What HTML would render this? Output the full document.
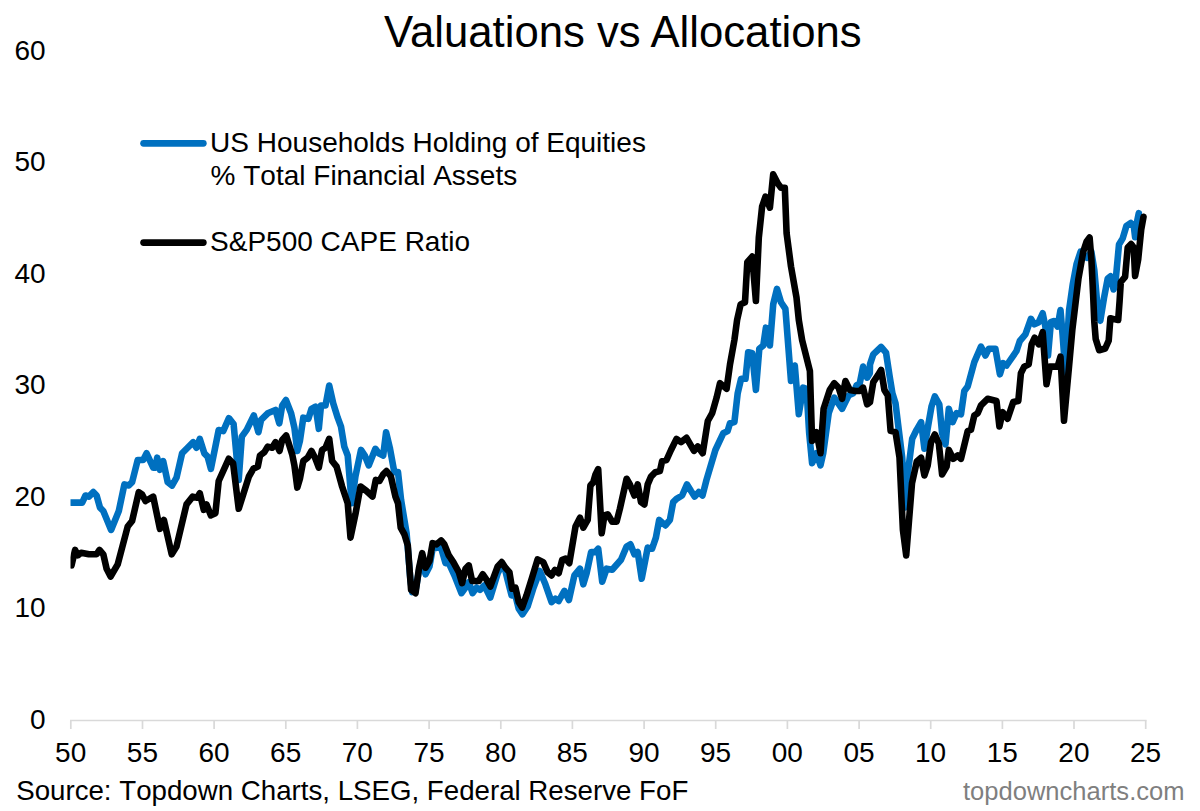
<!DOCTYPE html>
<html><head><meta charset="utf-8"><title>Valuations vs Allocations</title>
<style>
html,body{margin:0;padding:0;background:#fff;}
body{width:1200px;height:811px;overflow:hidden;font-family:"Liberation Sans",sans-serif;}
svg{display:block;}
text{font-family:"Liberation Sans",sans-serif;fill:#000;font-kerning:none;}
</style></head><body>
<svg width="1200" height="811" viewBox="0 0 1200 811">
<rect width="1200" height="811" fill="#fff"/>
<text x="622.9" y="46.6" text-anchor="middle" font-size="43.7" style="font-kerning:normal">Valuations vs Allocations</text>
<g font-size="28"><text x="45.7" y="728.5" text-anchor="end">0</text><text x="45.7" y="617.0" text-anchor="end">10</text><text x="45.7" y="505.5" text-anchor="end">20</text><text x="45.7" y="394.0" text-anchor="end">30</text><text x="45.7" y="282.5" text-anchor="end">40</text><text x="45.7" y="171.0" text-anchor="end">50</text><text x="45.7" y="59.5" text-anchor="end">60</text></g>
<g stroke="#d9d9d9" stroke-width="1.7" fill="none"><line x1="70" y1="720.5" x2="1146.6" y2="720.5"/><line x1="70.8" y1="720.5" x2="70.8" y2="729"/><line x1="142.5" y1="720.5" x2="142.5" y2="729"/><line x1="214.1" y1="720.5" x2="214.1" y2="729"/><line x1="285.8" y1="720.5" x2="285.8" y2="729"/><line x1="357.4" y1="720.5" x2="357.4" y2="729"/><line x1="429.1" y1="720.5" x2="429.1" y2="729"/><line x1="500.8" y1="720.5" x2="500.8" y2="729"/><line x1="572.4" y1="720.5" x2="572.4" y2="729"/><line x1="644.1" y1="720.5" x2="644.1" y2="729"/><line x1="715.7" y1="720.5" x2="715.7" y2="729"/><line x1="787.4" y1="720.5" x2="787.4" y2="729"/><line x1="859.1" y1="720.5" x2="859.1" y2="729"/><line x1="930.7" y1="720.5" x2="930.7" y2="729"/><line x1="1002.4" y1="720.5" x2="1002.4" y2="729"/><line x1="1074.0" y1="720.5" x2="1074.0" y2="729"/><line x1="1145.7" y1="720.5" x2="1145.7" y2="729"/></g>
<g font-size="28"><text x="70.7" y="762.4" text-anchor="middle">50</text><text x="142.4" y="762.4" text-anchor="middle">55</text><text x="214.0" y="762.4" text-anchor="middle">60</text><text x="285.7" y="762.4" text-anchor="middle">65</text><text x="357.3" y="762.4" text-anchor="middle">70</text><text x="429.0" y="762.4" text-anchor="middle">75</text><text x="500.7" y="762.4" text-anchor="middle">80</text><text x="572.3" y="762.4" text-anchor="middle">85</text><text x="644.0" y="762.4" text-anchor="middle">90</text><text x="715.6" y="762.4" text-anchor="middle">95</text><text x="787.3" y="762.4" text-anchor="middle">00</text><text x="859.0" y="762.4" text-anchor="middle">05</text><text x="930.6" y="762.4" text-anchor="middle">10</text><text x="1002.3" y="762.4" text-anchor="middle">15</text><text x="1073.9" y="762.4" text-anchor="middle">20</text><text x="1145.6" y="762.4" text-anchor="middle">25</text></g>
<clipPath id="c"><rect x="70.5" y="0" width="1130" height="720"/></clipPath>
<g clip-path="url(#c)">
<path d="M70.7,502.6 L82.2,502.6 L85.5,495.5 L88.9,496.6 L93.3,492.1 L96.6,495.5 L100.0,507.7 L103.3,511.0 L111.1,529.9 L118.8,511.0 L124.4,484.4 L128.8,485.5 L132.1,482.2 L137.7,460.0 L143.2,460.0 L146.6,453.3 L153.2,467.7 L155.4,467.7 L157.2,457.7 L159.9,469.9 L163.2,461.1 L167.7,482.2 L172.1,485.5 L176.5,477.7 L182.1,453.3 L187.6,447.7 L193.2,442.2 L196.5,447.7 L199.8,438.9 L204.3,453.3 L207.6,456.6 L210.9,468.8 L218.7,430.0 L223.2,431.1 L228.9,418.2 L233.6,424.0 L238.7,479.9 L241.8,436.6 L246.7,429.9 L253.8,415.5 L258.4,432.2 L261.1,419.9 L267.7,413.3 L275.5,410.0 L279.3,423.3 L282.2,405.5 L285.9,400.0 L291.1,413.3 L294.4,427.7 L297.3,451.0 L299.9,441.0 L303.3,417.7 L308.4,418.8 L311.5,408.8 L315.5,406.6 L318.8,428.8 L321.0,405.5 L325.5,405.5 L329.2,385.5 L333.2,403.3 L337.7,417.7 L341.0,426.6 L344.3,446.6 L347.7,455.5 L351.7,503.2 L355.4,476.5 L361.0,449.9 L364.8,455.5 L368.7,465.4 L375.4,448.8 L378.7,453.2 L383.2,455.5 L386.1,432.2 L389.8,447.7 L394.3,472.1 L398.0,472.1 L401.1,500.0 L406.6,533.3 L410.4,579.9 L412.2,592.1 L415.5,591.0 L418.9,571.0 L422.2,555.4 L425.5,574.3 L429.5,566.5 L432.6,548.8 L436.6,547.7 L441.1,547.7 L445.5,563.2 L448.8,563.2 L454.4,575.4 L461.5,593.2 L465.5,587.6 L468.8,582.1 L472.6,593.2 L476.6,587.6 L479.9,589.9 L484.3,585.4 L490.3,597.6 L497.7,573.2 L501.7,565.4 L505.4,571.0 L507.6,579.9 L511.6,595.4 L515.4,595.4 L518.7,608.7 L522.5,614.3 L527.6,606.5 L533.2,588.7 L539.8,571.0 L545.4,584.3 L551.6,602.1 L555.4,598.7 L558.7,601.0 L564.4,590.9 L568.9,600.0 L574.4,575.4 L580.0,568.7 L583.3,584.3 L586.6,573.2 L591.1,552.1 L595.1,552.1 L598.2,548.7 L602.2,581.6 L606.6,568.7 L612.2,569.8 L621.0,559.8 L626.6,546.5 L630.4,544.3 L634.4,554.3 L637.7,552.1 L641.7,578.7 L647.7,547.6 L652.1,548.7 L655.9,537.6 L659.2,519.9 L665.4,525.4 L669.9,519.9 L673.2,502.1 L676.5,498.8 L682.1,495.5 L687.0,484.4 L691.0,491.0 L694.7,496.6 L698.7,492.1 L702.5,495.5 L706.5,479.9 L715.4,450.0 L723.2,433.3 L727.6,431.1 L730.0,423.2 L734.4,422.1 L737.7,393.2 L741.1,378.8 L745.5,378.8 L748.2,352.2 L752.2,353.3 L755.9,389.9 L759.3,348.8 L763.3,345.5 L765.9,327.7 L769.9,345.5 L773.2,304.4 L777.0,288.9 L781.0,302.2 L785.4,308.9 L791.0,381.0 L794.8,365.5 L798.8,414.3 L803.2,387.7 L806.5,388.8 L809.2,433.2 L812.1,463.2 L816.5,453.2 L820.5,465.4 L823.2,453.2 L828.7,413.2 L834.3,397.7 L842.1,408.8 L848.7,395.4 L853.2,393.2 L856.5,385.5 L859.8,383.2 L863.1,366.6 L867.1,377.7 L869.8,373.3 L870.0,364.4 L873.3,354.4 L881.1,347.0 L886.0,352.6 L889.5,375.4 L892.4,393.2 L895.5,403.2 L898.9,430.9 L902.2,457.6 L905.1,507.5 L908.4,468.7 L912.2,438.7 L916.6,429.8 L921.1,422.1 L924.4,448.7 L928.2,425.4 L931.5,406.5 L934.8,396.5 L939.3,404.3 L942.1,433.2 L945.5,444.3 L948.8,408.7 L952.6,422.1 L956.6,413.2 L961.0,414.3 L964.3,391.0 L967.7,386.5 L974.3,362.1 L981.0,346.6 L985.4,355.5 L988.8,348.8 L995.4,348.8 L999.9,374.3 L1003.2,363.2 L1006.5,365.5 L1016.5,351.0 L1019.8,341.0 L1025.4,334.4 L1030.9,318.8 L1034.3,324.4 L1038.7,322.2 L1042.7,313.3 L1045.4,326.6 L1048.0,355.5 L1050.9,322.2 L1053.8,321.1 L1057.6,326.6 L1060.5,310.0 L1062.6,335.0 L1065.4,372.5 L1069.1,310.0 L1072.8,284.0 L1076.5,264.3 L1080.6,251.7 L1087.0,257.8 L1091.3,251.5 L1094.3,270.0 L1097.2,303.0 L1100.3,320.8 L1104.0,298.0 L1107.7,278.5 L1110.5,276.3 L1113.6,289.5 L1115.6,281.0 L1119.0,244.5 L1122.7,238.4 L1126.4,226.0 L1130.8,223.0 L1133.8,226.0 L1135.1,237.1 L1136.9,222.3 L1138.8,213.2" fill="none" stroke="#0070c0" stroke-width="6.6" stroke-linejoin="round" stroke-linecap="round"/>
<path d="M71.5,565.4 L75.1,549.9 L77.8,555.4 L81.1,552.7 L88.9,554.3 L96.6,554.3 L99.5,549.9 L103.3,554.3 L106.6,568.7 L110.6,576.5 L117.7,564.3 L127.7,526.5 L132.1,521.0 L138.8,492.1 L142.1,494.4 L145.5,501.0 L153.2,496.6 L159.9,528.8 L163.9,519.9 L171.7,554.3 L176.5,546.5 L186.5,504.4 L192.7,496.6 L197.2,497.7 L199.8,493.3 L203.8,509.9 L206.5,504.4 L210.9,515.4 L215.4,513.2 L218.7,481.0 L228.7,458.8 L233.1,463.3 L238.7,508.8 L248.9,476.5 L253.3,468.8 L257.8,466.6 L260.0,455.5 L264.4,452.1 L267.7,446.6 L272.2,447.7 L275.5,442.1 L279.5,451.0 L282.2,439.9 L286.2,435.5 L292.2,454.4 L294.4,465.4 L297.3,487.6 L299.9,478.8 L303.3,461.0 L307.7,457.7 L311.5,451.0 L315.5,458.8 L318.8,467.7 L322.1,449.9 L325.5,447.7 L329.2,438.8 L332.1,461.0 L336.6,466.6 L342.1,486.5 L347.7,503.2 L350.5,537.6 L355.4,514.3 L360.5,486.5 L366.5,491.0 L372.5,496.5 L375.8,479.9 L379.4,481.0 L383.2,474.3 L386.5,471.0 L390.9,476.5 L395.4,496.5 L398.0,503.2 L400.7,527.7 L404.4,534.4 L407.8,545.5 L411.1,589.9 L415.5,593.2 L418.9,568.8 L422.2,553.2 L425.5,567.7 L429.5,561.0 L432.6,543.2 L436.6,544.4 L441.1,540.4 L444.4,544.4 L448.8,555.4 L453.3,562.1 L458.8,572.1 L462.1,583.2 L465.5,568.8 L468.8,565.4 L472.1,581.0 L478.8,581.0 L482.8,574.3 L486.6,579.9 L490.3,586.5 L497.7,566.5 L501.7,562.1 L505.4,567.7 L509.4,572.1 L512.1,588.7 L515.4,587.6 L518.7,602.1 L522.1,607.6 L526.5,595.4 L532.1,577.6 L537.6,559.4 L543.2,562.1 L547.6,572.1 L551.6,575.4 L554.9,569.9 L558.7,573.2 L562.2,559.8 L565.5,558.7 L569.3,563.2 L575.5,526.5 L580.0,517.7 L583.3,527.7 L587.7,519.9 L590.4,485.5 L593.3,482.2 L595.5,474.4 L598.2,469.1 L601.7,533.2 L604.4,515.4 L607.7,514.3 L612.2,521.7 L616.6,521.7 L619.9,508.8 L626.6,478.8 L629.9,484.4 L634.4,495.5 L637.7,484.4 L641.0,502.1 L644.4,504.4 L647.7,484.4 L651.0,476.6 L655.4,472.2 L659.9,471.1 L662.1,461.1 L666.5,460.0 L671.0,450.0 L676.5,438.9 L681.0,442.2 L686.5,437.8 L694.0,450.9 L697.8,446.5 L702.7,453.2 L707.8,421.0 L712.2,413.2 L716.6,397.7 L720.0,383.2 L726.6,388.8 L730.0,364.4 L734.4,340.0 L737.1,320.0 L740.6,304.4 L745.0,302.2 L747.3,262.1 L752.2,256.6 L755.9,301.0 L758.8,237.7 L762.1,206.6 L765.5,196.6 L769.9,207.7 L773.2,174.4 L777.7,183.3 L781.0,187.7 L784.8,187.7 L786.6,233.3 L791.0,266.5 L796.5,297.6 L798.8,320.0 L802.1,340.0 L809.9,371.0 L812.1,441.0 L816.5,432.1 L820.5,453.2 L823.6,408.8 L829.8,389.9 L834.3,383.2 L838.7,387.7 L842.1,398.8 L845.4,381.0 L849.8,389.9 L855.4,391.0 L859.8,391.0 L863.1,387.7 L867.1,404.3 L870.0,402.1 L873.3,382.1 L877.8,375.4 L881.1,369.9 L884.4,389.9 L887.8,395.4 L890.6,430.9 L895.5,432.1 L899.5,457.6 L902.9,529.8 L906.2,555.4 L908.8,523.2 L912.0,483.2 L916.8,461.5 L921.1,457.7 L924.4,475.5 L927.7,465.5 L931.0,442.2 L934.8,434.4 L938.8,443.3 L942.1,474.4 L946.6,466.6 L948.8,449.9 L953.2,458.8 L957.7,455.5 L961.0,458.8 L967.7,431.1 L971.0,429.8 L974.3,415.4 L977.7,413.2 L981.0,405.4 L987.6,398.8 L996.5,401.0 L999.4,426.5 L1002.7,412.1 L1007.6,418.7 L1013.2,402.1 L1018.3,401.0 L1020.9,373.2 L1024.3,366.6 L1028.7,364.4 L1031.6,344.4 L1034.7,337.7 L1038.7,344.4 L1042.7,332.2 L1046.5,384.3 L1049.8,366.6 L1057.6,366.6 L1060.5,356.6 L1064.0,420.8 L1068.8,369.0 L1072.3,330.2 L1078.4,279.0 L1083.3,251.5 L1086.6,241.5 L1089.6,237.6 L1091.4,259.5 L1093.1,294.1 L1094.3,321.7 L1095.7,339.0 L1099.2,350.2 L1105.2,348.5 L1108.7,340.7 L1110.4,318.3 L1113.9,319.1 L1118.2,320.0 L1119.6,301.0 L1120.8,282.0 L1125.1,276.8 L1127.7,247.5 L1131.1,244.0 L1133.7,247.5 L1135.1,276.0 L1138.2,259.3 L1141.2,229.7 L1143.5,216.8" fill="none" stroke="#000" stroke-width="6.6" stroke-linejoin="round" stroke-linecap="round"/>
</g>
<line x1="143.6" y1="143.3" x2="203.3" y2="143.3" stroke="#0070c0" stroke-width="6.8" stroke-linecap="round"/>
<line x1="143.6" y1="242.6" x2="203.3" y2="242.6" stroke="#000" stroke-width="6.8" stroke-linecap="round"/>
<g font-size="28">
<text x="210.1" y="152">US Households Holding of Equities</text>
<text x="210.6" y="185.1">% Total Financial Assets</text>
<text x="210.1" y="251.4">S&amp;P500 CAPE Ratio</text>
</g>
<text x="16.2" y="800.1" font-size="27.68">Source: Topdown Charts, LSEG, Federal Reserve FoF</text>
<text x="1184.5" y="800.3" font-size="25.55" text-anchor="end" style="fill:#7f7f7f">topdowncharts.com</text>
</svg>
</body></html>
